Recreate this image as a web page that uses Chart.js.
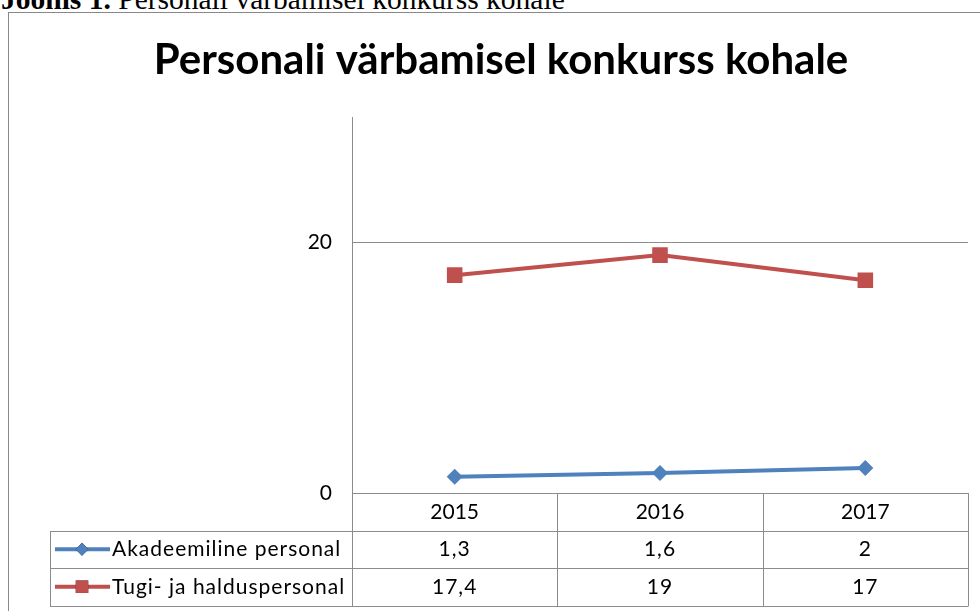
<!DOCTYPE html>
<html>
<head>
<meta charset="utf-8">
<script src="https://cdn.jsdelivr.net/npm/chart.js@4/dist/chart.umd.min.js"></script>
<style>
  html, body { margin: 0; padding: 0; background: #fff; width: 980px; height: 611px; overflow: hidden; }
  #caption { position: absolute; left: 1px; top: -15px; font-family: "Liberation Serif", serif; font-size: 29.5px; line-height: 29px; color: #000; white-space: nowrap; }
  #frame { position: absolute; left: 8px; top: 12px; width: 1000px; height: 700px; border: 1px solid #888; }
  #wrap { position: absolute; left: 0; top: 0; width: 980px; height: 611px; }
</style>
</head>
<body>
<div id="caption"><b>Joonis 1.</b> Personali värbamisel konkurss kohale</div>
<div id="frame"></div>
<div id="wrap"><canvas id="chart" width="980" height="611"></canvas></div>
<script>
// data
const years        = ['2015', '2016', '2017'];
const akadeemiline = [1.3, 1.6, 2];
const tugiHaldus   = [17.4, 19, 17];
const seriesNames  = ['Akadeemiline personal', 'Tugi- ja halduspersonal'];
const yTicks       = [0, 20];

const BLUE = '#4F81BD';
const RED  = '#C0504D';
const GRID = '#8c8c8c';
const FONT = 'Lato';
const PAD_LEFT = 34;

const fmtNum = v => String(v).replace('.', ',');

// draws the data table under the plot, columns follow the x scale
const dataTable = {
  id: 'dataTable',
  afterDraw(chart) {
    const { ctx, chartArea, scales: { x } } = chart;
    const step = x.getPixelForValue(1) - x.getPixelForValue(0);
    const top = chartArea.bottom;
    const rowH = 37.5;
    const left = 50;
    const right = chartArea.right;
    ctx.save();
    ctx.strokeStyle = GRID;
    ctx.lineWidth = 1;
    ctx.beginPath();
    // horizontal lines
    ctx.moveTo(chartArea.left, top + 0.5); ctx.lineTo(right, top + 0.5);
    for (let r = 1; r <= 3; r++) {
      const y = Math.round(top + r * rowH) + 0.5;
      ctx.moveTo(left, y); ctx.lineTo(right, y);
    }
    // vertical lines
    const bottom = Math.round(top + 3 * rowH) + 0.5;
    ctx.moveTo(left + 0.5, Math.round(top + rowH)); ctx.lineTo(left + 0.5, bottom);
    for (let i = 0; i <= years.length; i++) {
      const xp = Math.round(x.getPixelForValue(0) - step / 2 + i * step) + 0.5;
      ctx.moveTo(xp, top); ctx.lineTo(xp, bottom);
    }
    ctx.stroke();

    ctx.font = '21px ' + FONT;
    ctx.letterSpacing = '1px';
    ctx.fillStyle = '#000';
    ctx.textBaseline = 'middle';
    chart.data.datasets.forEach((ds, r) => {
      const cy = top + (r + 1.5) * rowH;
      // legend key
      ctx.strokeStyle = ds.borderColor;
      ctx.lineWidth = 4;
      ctx.beginPath();
      ctx.moveTo(55, cy); ctx.lineTo(110, cy);
      ctx.stroke();
      Chart.helpers.drawPoint(ctx, { pointStyle: ds.pointStyle, radius: ds.pointRadius * 0.8, borderWidth: 0 }, 82, cy);
      ctx.fillStyle = ds.borderColor;
      ctx.fill();
      ctx.fillStyle = '#000';
      ctx.textAlign = 'left';
      ctx.fillText(ds.label, 112, cy);
      // values
      ctx.textAlign = 'center';
      ds.data.forEach((v, i) => ctx.fillText(fmtNum(v), x.getPixelForValue(i), cy));
    });
    ctx.restore();
  }
};

new Chart(document.getElementById('chart'), {
  type: 'line',
  data: {
    labels: years,
    datasets: [
      { label: seriesNames[0], data: akadeemiline, borderColor: BLUE, backgroundColor: BLUE, borderWidth: 4,
        pointStyle: 'rectRot', pointRadius: 8, pointHoverRadius: 8, pointBorderWidth: 0, tension: 0 },
      { label: seriesNames[1], data: tugiHaldus, borderColor: RED, backgroundColor: RED, borderWidth: 4,
        pointStyle: 'rect', pointRadius: 11, pointHoverRadius: 11, pointBorderWidth: 0, tension: 0 },
    ],
  },
  options: {
    responsive: false,
    animation: false,
    events: [],
    layout: { padding: { left: PAD_LEFT, right: 12, top: 0, bottom: 0 } },
    plugins: {
      legend: { display: false },
      tooltip: { enabled: false },
      title: {
        display: true,
        text: 'Personali värbamisel konkurss kohale',
        color: '#000',
        font: { family: FONT, size: 42, weight: 'bold' },
        padding: { top: 35, bottom: 32 },
      },
    },
    scales: {
      x: {
        offset: true,
        grid: { display: false, drawTicks: false },
        border: { display: false },
        ticks: { color: '#000', font: { family: FONT, size: 21 }, padding: 7, maxRotation: 0 },
        afterFit: s => { s.height = 118; },
      },
      y: {
        min: 0,
        max: 30,
        grid: { color: GRID, drawTicks: false },
        border: { display: true, color: GRID, width: 1 },
        ticks: { color: '#000', font: { family: FONT, size: 21 }, padding: 20 },
        afterBuildTicks: s => { s.ticks = yTicks.map(v => ({ value: v })); },
        afterFit: s => { s.width = 352 - PAD_LEFT; },
      },
    },
  },
  plugins: [dataTable],
});
</script>
</body>
</html>
